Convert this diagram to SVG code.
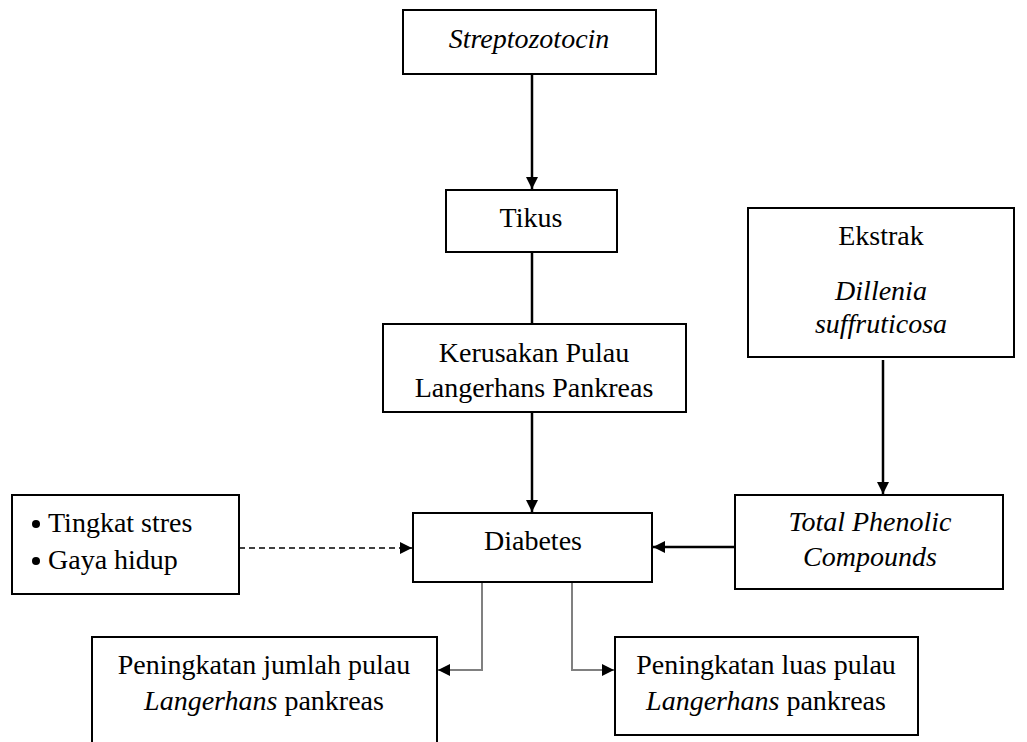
<svg xmlns="http://www.w3.org/2000/svg" width="1027" height="742" viewBox="0 0 1027 742">
<style>
.box{fill:#fff;stroke:#000;stroke-width:2}
.t{font-family:'Liberation Serif','Tinos','Times New Roman','DejaVu Serif',serif;font-size:28px;fill:#000;text-anchor:middle}
.i{font-style:italic}
.c{fill:none;stroke:#000;stroke-width:2.5}
.g{fill:none;stroke:#808080;stroke-width:2}
.d{fill:none;stroke:#000;stroke-width:1.3;stroke-dasharray:6 4}
</style>
<defs>
<marker id="ah" viewBox="0 0 10 10" refX="10" refY="5" markerWidth="12" markerHeight="12" markerUnits="userSpaceOnUse" orient="auto">
<path d="M0,0 L10,5 L0,10 Z" fill="#000"/>
</marker>
</defs>
<rect width="1027" height="742" fill="#fff"/>
<g id="connectors">
<line class="c" x1="532" y1="74" x2="532" y2="189" marker-end="url(#ah)"/>
<line class="c" x1="532" y1="252" x2="532" y2="324"/>
<line class="c" x1="532" y1="412" x2="532" y2="512" marker-end="url(#ah)"/>
<line class="c" x1="883" y1="360" x2="883" y2="494" marker-end="url(#ah)"/>
<line class="c" x1="735" y1="547" x2="653" y2="547" marker-end="url(#ah)"/>
<line class="d" x1="239" y1="548" x2="412" y2="548" marker-end="url(#ah)"/>
<polyline class="g" points="482,582 482,670 438,670" marker-end="url(#ah)"/>
<polyline class="g" points="572,582 572,670 614,670" marker-end="url(#ah)"/>
</g>
<g id="streptozotocin">
<rect class="box" x="403" y="10" width="253" height="64"/>
<text class="t i" x="529" y="48">Streptozotocin</text>
</g>
<g id="tikus">
<rect class="box" x="446" y="190" width="171" height="62"/>
<text class="t" x="531" y="227">Tikus</text>
</g>
<g id="kerusakan">
<rect class="box" x="383" y="324" width="303" height="88"/>
<text class="t" x="534" y="362">Kerusakan Pulau</text>
<text class="t" x="534" y="397">Langerhans Pankreas</text>
</g>
<g id="ekstrak">
<rect class="box" x="748" y="208" width="266" height="149"/>
<text class="t" x="881" y="245">Ekstrak</text>
<text class="t i" x="881" y="300">Dillenia</text>
<text class="t i" x="881" y="333">suffruticosa</text>
</g>
<g id="diabetes">
<rect class="box" x="413" y="513" width="239" height="69"/>
<text class="t" x="533" y="550">Diabetes</text>
</g>
<g id="faktor">
<rect class="box" x="12" y="495" width="227" height="99"/>
<circle cx="36" cy="524" r="4"/>
<circle cx="36" cy="561" r="4"/>
<text class="t" x="48" y="532" style="text-anchor:start">Tingkat stres</text>
<text class="t" x="48" y="569" style="text-anchor:start">Gaya hidup</text>
</g>
<g id="phenolic">
<rect class="box" x="735" y="495" width="268" height="94"/>
<text class="t i" x="870" y="531">Total Phenolic</text>
<text class="t i" x="870" y="566">Compounds</text>
</g>
<g id="jumlah">
<rect class="box" x="92" y="637" width="345" height="110"/>
<text class="t" x="264" y="674">Peningkatan jumlah pulau</text>
<text class="t" x="264" y="710"><tspan class="i">Langerhans</tspan> pankreas</text>
</g>
<g id="luas">
<rect class="box" x="615" y="637" width="303" height="98"/>
<text class="t" x="766" y="674">Peningkatan luas pulau</text>
<text class="t" x="766" y="710"><tspan class="i">Langerhans</tspan> pankreas</text>
</g>
</svg>
